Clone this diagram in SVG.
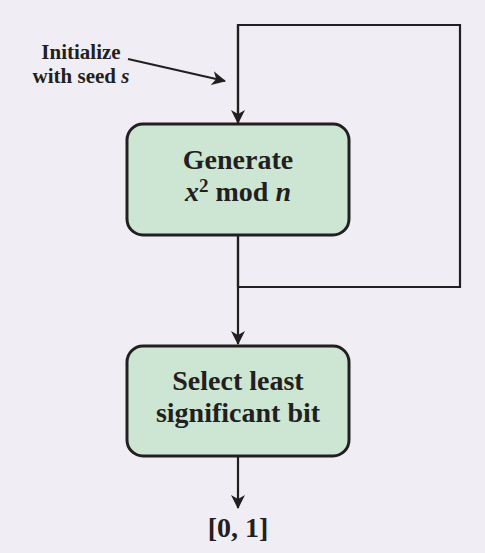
<svg xmlns="http://www.w3.org/2000/svg" width="485" height="553" viewBox="0 0 485 553">
<defs>
<marker id="ah" markerWidth="14" markerHeight="14" viewBox="0 0 14 14" refX="13" refY="7" orient="auto" markerUnits="userSpaceOnUse">
<path d="M0,0 L14,7 L0,14 L4,7 Z" fill="#231f20"/>
</marker>
<style>
.box{fill:#cce6d3;stroke:#231f20;stroke-width:3}
.ln{fill:none;stroke:#231f20;stroke-width:2.2}
.t{font-family:"Liberation Serif",serif;font-weight:bold;fill:#231f20;text-anchor:middle}
.big{font-size:28px}
.sm{font-size:21px}
</style>
</defs>
<rect width="485" height="553" fill="#f0eef4"/>
<g id="connectors">
<path class="ln" d="M238,287 L238,25 L460,25 L460,287 L238,287" />
<path class="ln" d="M238,25 L238,123" marker-end="url(#ah)"/>
<path class="ln" d="M238,235 L238,344" marker-end="url(#ah)"/>
<path class="ln" d="M238,456 L238,508" marker-end="url(#ah)"/>
<path class="ln" d="M128,59 L225,81" marker-end="url(#ah)" stroke-width="1.6"/>
</g>
<g id="init-label">
<text class="t sm" x="81" y="59">Initialize</text>
<text class="t sm" x="81" y="83">with seed <tspan font-style="italic">s</tspan></text>
</g>
<g id="generate">
<rect class="box" x="127" y="124" width="222" height="111" rx="16"/>
<text class="t big" x="238" y="169">Generate</text>
<text class="t big" x="238" y="201"><tspan font-style="italic">x</tspan><tspan font-size="19" dy="-9">2</tspan><tspan dy="9"> mod </tspan><tspan font-style="italic">n</tspan></text>
</g>
<g id="select">
<rect class="box" x="127" y="346" width="222" height="110" rx="16"/>
<text class="t big" x="238" y="390">Select least</text>
<text class="t big" x="238" y="422">significant bit</text>
</g>
<g id="output">
<text class="t big" x="238" y="537">[0, 1]</text>
</g>
</svg>
